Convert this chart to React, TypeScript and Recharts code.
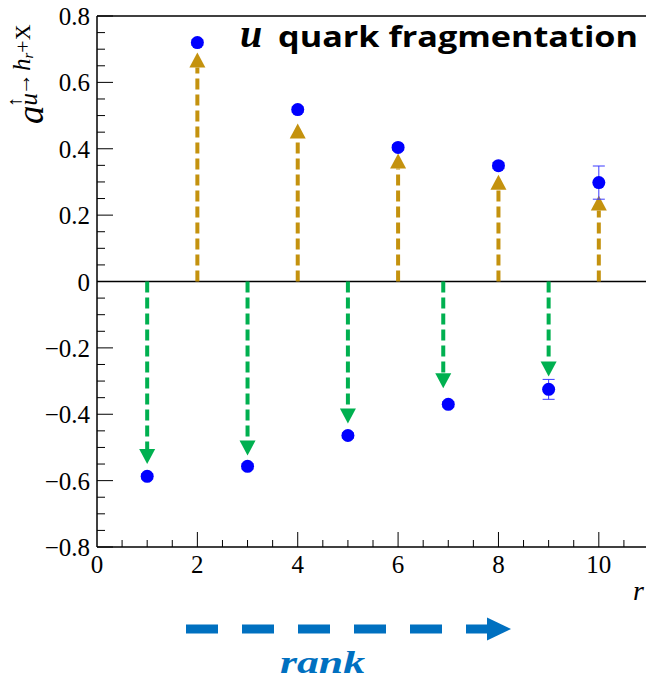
import React from 'react';
import { ComposedChart, Scatter, ErrorBar, XAxis, YAxis, ReferenceLine } from 'recharts';

// measured asymmetries a^{u↑→h_r+X} vs rank r
const RANKS = [1, 2, 3, 4, 5, 6, 7, 8, 9, 10];
const ASYM = [-0.587, 0.72, -0.557, 0.518, -0.464, 0.404, -0.37, 0.349, -0.325, 0.298];
const ASYM_ERR = [0.008, 0.008, 0.008, 0.008, 0.008, 0.008, 0.008, 0.009, 0.03, 0.05];

// dashed arrows (gold up, green down), tip values
const UP_R = [2, 4, 6, 8, 10];
const UP_TIP = [0.69, 0.476, 0.386, 0.322, 0.259];
const DOWN_R = [1, 3, 5, 6.9, 9];
const DOWN_TIP = [-0.55, -0.524, -0.428, -0.322, -0.286];

const Y_LABELS = [-0.8, -0.6, -0.4, -0.2, 0, 0.2, 0.4, 0.6, 0.8];
const X_LABELS = [0, 2, 4, 6, 8, 10];

const Y_TICKS: number[] = [];
for (let k = -16; k <= 16; k++) Y_TICKS.push(Number((k * 0.05).toFixed(2)));
const X_TICKS: number[] = [];
for (let k = 0; k <= 22; k++) X_TICKS.push(k / 2);

const points = RANKS.map((r, i) => ({ r, a: ASYM[i], err: ASYM_ERR[i] }));

const GOLD = '#C4920E';
const GREEN = '#00B050';
const DOT = '#0000FF';
const RANK_BLUE = '#0070C0';
const SERIF = '"Liberation Serif", "DejaVu Serif", serif';

const fmtY = (v: number) => (Math.abs(v) < 1e-9 ? '0' : (v < 0 ? '\u2212' : '') + Math.abs(v).toFixed(1));
const has = (list: number[], v: number) => list.some((l) => Math.abs(l - v) < 1e-6);

const YTick = (p: any) => {
  const { x, y, payload } = p;
  const major = has(Y_LABELS, payload.value);
  return (
    <g>
      <line x1={x} y1={y} x2={x + (major ? 16 : 8)} y2={y} stroke="#000" strokeWidth={1} />
      {major && (
        <text x={x - 7} y={y + 9} textAnchor="end" fontFamily={SERIF} fontSize={25} fill="#000">
          {fmtY(payload.value)}
        </text>
      )}
    </g>
  );
};

const XTick = (p: any) => {
  const { x, y, payload } = p;
  const major = has(X_LABELS, payload.value);
  const big = payload.value % 2 === 0;
  return (
    <g>
      {payload.value > 0 && (
        <line x1={x} y1={y} x2={x} y2={y - (big ? 15 : 7)} stroke="#000" strokeWidth={1} />
      )}
      {major && (
        <text x={x} y={y + 26} textAnchor="middle" fontFamily={SERIF} fontSize={25} fill="#000">
          {payload.value}
        </text>
      )}
    </g>
  );
};

const arrowShape = (color: string) => (p: any) => {
  const { x1, y1, x2, y2 } = p;
  const s = y1 > y2 ? 1 : -1;
  const base = y2 + s * 15;
  return (
    <g>
      <line x1={x1} y1={y1} x2={x2} y2={base} stroke={color} strokeWidth={4} strokeDasharray="11 5" />
      <polygon points={`${x2},${y2} ${x2 - 8},${base} ${x2 + 8},${base}`} fill={color} />
    </g>
  );
};

const App: React.FC = () => {
  return (
    <div style={{ position: 'relative', width: 646, height: 680, overflow: 'hidden', background: '#fff' }}>
      <style>{'html,body{margin:0;padding:0;overflow:hidden;}'}</style>
      <ComposedChart
        width={668}
        height={680}
        data={points}
        margin={{ top: 16, right: 19, bottom: 93, left: 8 }}
      >
        <XAxis
          type="number"
          dataKey="r"
          domain={[0, 11]}
          ticks={X_TICKS}
          interval={0}
          tickSize={0}
          tickMargin={0}
          tick={<XTick />}
          height={40}
          axisLine={{ stroke: '#000', strokeWidth: 1.5 }}
          allowDataOverflow
        />
        <YAxis
          type="number"
          dataKey="a"
          domain={[-0.8, 0.8]}
          ticks={Y_TICKS}
          interval={0}
          tickSize={0}
          tickMargin={0}
          tick={<YTick />}
          width={89}
          axisLine={{ stroke: '#000', strokeWidth: 1.5 }}
          allowDataOverflow
        />
        <ReferenceLine y={0.8} stroke="#000" strokeWidth={1.5} />
        <ReferenceLine y={0} stroke="#000" strokeWidth={1.5} />
        {UP_R.map((r, i) => (
          <ReferenceLine
            key={`up${r}`}
            segment={[{ x: r, y: 0 }, { x: r, y: UP_TIP[i] }]}
            shape={arrowShape(GOLD)}
          />
        ))}
        {DOWN_R.map((r, i) => (
          <ReferenceLine
            key={`dn${r}`}
            segment={[{ x: r, y: 0 }, { x: r, y: DOWN_TIP[i] }]}
            shape={arrowShape(GREEN)}
          />
        ))}
        <Scatter
          data={points}
          dataKey="a"
          isAnimationActive={false}
          shape={(p: any) => <circle cx={p.cx} cy={p.cy} r={6.5} fill={DOT} />}
        >
          <ErrorBar dataKey="err" direction="y" width={6} stroke="#3a3aff" strokeWidth={1} />
        </Scatter>
      </ComposedChart>

      <svg
        width={646}
        height={680}
        style={{ position: 'absolute', left: 0, top: 0, pointerEvents: 'none' }}
      >
        {/* title */}
        <text x={240} y={47} fontFamily={SERIF} fontStyle="italic" fontWeight={700} fontSize={40} fill="#000">
          u
        </text>
        <text
          x={278}
          y={47}
          fontFamily='"Open Sans", "Noto Sans", sans-serif'
          fontWeight={700}
          fontSize={29}
          textLength={360}
          lengthAdjust="spacingAndGlyphs"
          fill="#000"
        >
          quark fragmentation
        </text>

        {/* y axis title */}
        <text x={43} y={124} transform="rotate(-90 43 124)" fontFamily={SERIF} fill="#000">
          <tspan fontSize={37} fontStyle="italic">a</tspan>
          <tspan fontSize={25} fontStyle="italic" dy={-6}>u</tspan>
          <tspan fontSize={20} dx={-14} dy={-16}>{'\u2191'}</tspan>
          <tspan fontSize={22} dx={2} dy={9}>{'\u2192'}</tspan>
          <tspan fontSize={25} fontStyle="italic" dx={2}>h</tspan>
          <tspan fontSize={15} fontStyle="italic" dy={3}>r</tspan>
          <tspan fontSize={22} dy={-3}>+X</tspan>
        </text>

        {/* x axis title */}
        <text x={633} y={600} fontFamily={SERIF} fontStyle="italic" fontSize={28} fill="#000">
          r
        </text>

        {/* rank arrow */}
        <line x1={186} y1={629} x2={488} y2={629} stroke={RANK_BLUE} strokeWidth={9} strokeDasharray="32 24" />
        <polygon points="511,629 487,617.5 487,640.5" fill={RANK_BLUE} />
        <text
          x={280}
          y={673}
          fontFamily={SERIF}
          fontStyle="italic"
          fontWeight={700}
          fontSize={32}
          textLength={85}
          lengthAdjust="spacingAndGlyphs"
          fill={RANK_BLUE}
        >
          rank
        </text>
      </svg>
    </div>
  );
};

export default App;
